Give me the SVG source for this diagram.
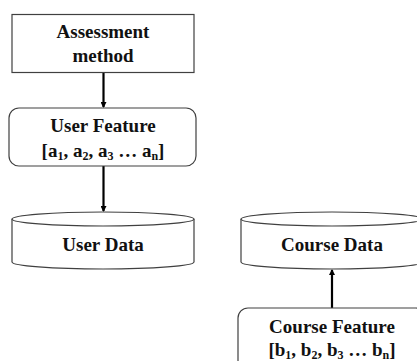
<svg xmlns="http://www.w3.org/2000/svg" width="417" height="361" viewBox="0 0 417 361">
<style>
.box{fill:#fff;stroke:#404040;stroke-width:1.2}
.t{font-family:'Liberation Serif','Times New Roman','DejaVu Serif',serif;font-weight:bold;font-size:19px;fill:#111;text-anchor:middle}
.sub{font-size:12px}
.conn{stroke:#000;stroke-width:2.2;fill:none}
</style>
<defs>
<marker id="ah" markerWidth="6" markerHeight="6" refX="5" refY="3" orient="auto" markerUnits="userSpaceOnUse">
<path d="M0,0 L6,3 L0,6 Z" fill="#000"/>
</marker>
</defs>
<rect width="417" height="361" fill="#fff"/>
<g id="connectors">
<line class="conn" x1="103.5" y1="73" x2="103.5" y2="107" marker-end="url(#ah)"/>
<line class="conn" x1="103.5" y1="166" x2="103.5" y2="211" marker-end="url(#ah)"/>
<line class="conn" x1="332" y1="308" x2="332" y2="270" marker-end="url(#ah)"/>
</g>
<g id="assessment">
<rect class="box" x="12" y="14.5" width="182" height="58"/>
<text class="t" x="103" y="38" font-family="Liberation Serif, serif">Assessment</text>
<text class="t" x="103" y="62">method</text>
</g>
<g id="user-feature">
<rect class="box" x="9" y="108" width="187" height="58" rx="10"/>
<text class="t" x="103" y="132">User Feature</text>
<text class="t" x="103" y="157">[a<tspan class="sub" dy="3">1</tspan><tspan dy="-3">, a</tspan><tspan class="sub" dy="3">2</tspan><tspan dy="-3">, a</tspan><tspan class="sub" dy="3">3</tspan><tspan dy="-3"> … a</tspan><tspan class="sub" dy="3">n</tspan><tspan dy="-3">]</tspan></text>
</g>
<g id="user-data">
<path class="box" d="M12,219 L12,262 A91,7 0 0 0 194,262 L194,219"/>
<ellipse class="box" cx="103" cy="219" rx="91" ry="7"/>
<text class="t" x="103" y="251">User Data</text>
</g>
<g id="course-data">
<path class="box" d="M241,219 L241,262 A91,7 0 0 0 423,262 L423,219"/>
<ellipse class="box" cx="332" cy="219" rx="91" ry="7"/>
<text class="t" x="332" y="251">Course Data</text>
</g>
<g id="course-feature">
<rect class="box" x="238" y="308" width="188" height="62" rx="10"/>
<text class="t" x="332" y="333">Course Feature</text>
<text class="t" x="332" y="356">[b<tspan class="sub" dy="3">1</tspan><tspan dy="-3">, b</tspan><tspan class="sub" dy="3">2</tspan><tspan dy="-3">, b</tspan><tspan class="sub" dy="3">3</tspan><tspan dy="-3"> … b</tspan><tspan class="sub" dy="3">n</tspan><tspan dy="-3">]</tspan></text>
</g>
</svg>
